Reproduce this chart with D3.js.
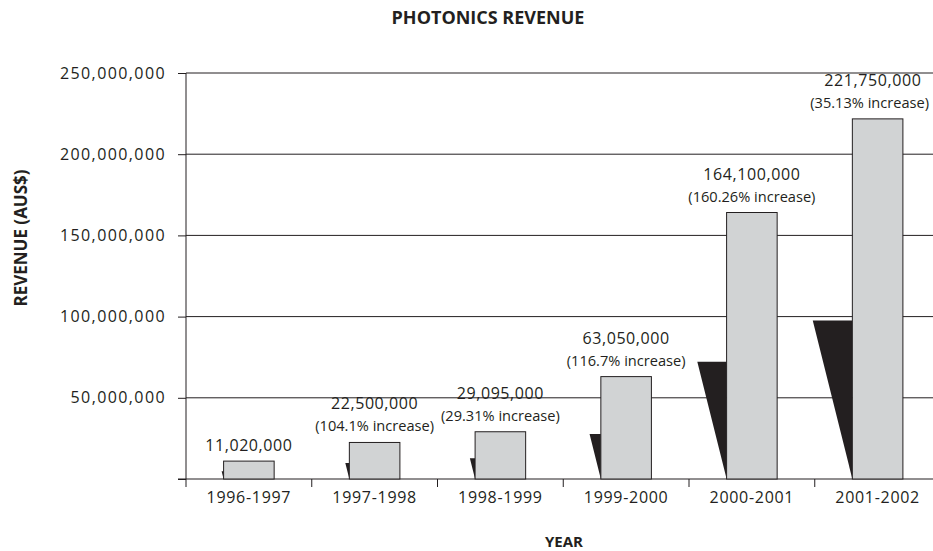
<!DOCTYPE html>
<html>
<head>
<meta charset="utf-8">
<script src="https://cdn.jsdelivr.net/npm/d3@7"></script>
<style>
  html, body { margin: 0; padding: 0; background: #fff; }
  svg { display: block; font-family: "Open Sans", sans-serif; }
</style>
</head>
<body>
<svg id="chart" width="933" height="551"></svg>
<script>
const categories = ["1996-1997", "1997-1998", "1998-1999", "1999-2000", "2000-2001", "2001-2002"];
const revenue = [11020000, 22500000, 29095000, 63050000, 164100000, 221750000];
const increaseLabels = ["", "(104.1% increase)", "(29.31% increase)", "(116.7% increase)", "(160.26% increase)", "(35.13% increase)"];
const yTicks = [0, 50000000, 100000000, 150000000, 200000000, 250000000];

const ink = "#231f20";
const svg = d3.select("#chart");
const mLeft = 186, mRight = 940.5, mTop = 73, mBottom = 479;

const x = d3.scaleBand().domain(categories).range([mLeft, mRight]).paddingInner(0).paddingOuter(0);
const y = d3.scaleLinear().domain([0, 250000000]).range([mBottom, mTop]);
const barW = x.bandwidth() * 0.402;
const fmt = d3.format(",");

// Gridlines
svg.append("g").selectAll("line").data(yTicks.filter(d => d > 0)).join("line")
  .attr("x1", mLeft).attr("x2", 933)
  .attr("y1", d => y(d)).attr("y2", d => y(d))
  .attr("stroke", ink).attr("stroke-width", 1);

// Y axis
const yAxis = d3.axisLeft(y).tickValues(yTicks).tickSize(8).tickPadding(12)
  .tickFormat(d => d === 0 ? "" : fmt(d));
const gy = svg.append("g").attr("transform", `translate(${mLeft},0)`).call(yAxis);
gy.select(".domain").remove();
gy.selectAll(".tick line").attr("stroke", ink);
gy.selectAll(".tick text").attr("fill", ink).attr("font-size", 16).attr("letter-spacing", 1.4)
  .attr("font-family", "Open Sans, sans-serif");
svg.append("line").attr("x1", mLeft).attr("x2", mLeft).attr("y1", mTop).attr("y2", mBottom + 8)
  .attr("stroke", ink);

// X axis
svg.append("line").attr("x1", mLeft - 8).attr("x2", 933).attr("y1", mBottom).attr("y2", mBottom).attr("stroke", ink);
svg.append("g").selectAll("line").data(categories.slice(1)).join("line")
  .attr("x1", d => x(d)).attr("x2", d => x(d))
  .attr("y1", mBottom).attr("y2", mBottom + 8).attr("stroke", ink);
svg.append("g").selectAll("text").data(categories).join("text")
  .attr("x", d => x(d) + x.bandwidth() / 2).attr("y", 503)
  .attr("text-anchor", "middle").attr("font-size", 16).attr("letter-spacing", 0.7)
  .attr("fill", ink).text(d => d);

// Shadows
const data = categories.map((c, i) => ({ c, v: revenue[i], inc: increaseLabels[i] }));
const barX = d => x(d.c) + (x.bandwidth() - barW) / 2;
svg.append("g").selectAll("path").data(data).join("path")
  .attr("d", d => {
    const h = 0.44 * (y(0) - y(d.v));
    const bx = barX(d);
    return `M${bx},${y(0)} L${bx - 0.25 * h},${y(0) - h} L${bx},${y(0) - h} Z`;
  })
  .attr("fill", ink);

// Bars
svg.append("g").selectAll("rect").data(data).join("rect")
  .attr("x", barX).attr("y", d => y(d.v))
  .attr("width", barW).attr("height", d => y(0) - y(d.v))
  .attr("fill", "#d1d3d4").attr("stroke", ink).attr("stroke-width", 1);

// Labels
const labelG = svg.append("g");
data.forEach(d => {
  const cx = barX(d) + barW / 2;
  const g = labelG.append("g");
  const vt = g.append("text")
    .attr("x", cx).attr("y", y(d.v) - (d.inc ? 33 : 10))
    .attr("text-anchor", "middle").attr("font-size", 16).attr("letter-spacing", 0.6)
    .attr("fill", ink).text(fmt(d.v));
  let shift = 0;
  if (d.inc) {
    const it = g.append("text")
      .attr("x", cx).attr("y", y(d.v) - 11)
      .attr("text-anchor", "middle").attr("font-size", 14.6)
      .attr("fill", ink).text(d.inc);
    const w = it.node().getComputedTextLength();
    if (cx + w / 2 > 929) shift = 929 - (cx + w / 2);
    it.attr("x", cx + shift);
  }
  vt.attr("x", cx + shift * 0.6);
});

// Titles
svg.append("text").attr("x", 488).attr("y", 24).attr("text-anchor", "middle")
  .attr("font-size", 18).attr("font-weight", "bold").attr("fill", ink).text("PHOTONICS REVENUE");
svg.append("text").attr("x", 564).attr("y", 547).attr("text-anchor", "middle")
  .attr("font-size", 15).attr("font-weight", "bold").attr("fill", ink).text("YEAR");
svg.append("text").attr("transform", "translate(27,238) rotate(-90)").attr("text-anchor", "middle")
  .attr("font-size", 17).attr("font-weight", "bold").attr("fill", ink).text("REVENUE (AUS$)");
</script>
</body>
</html>
